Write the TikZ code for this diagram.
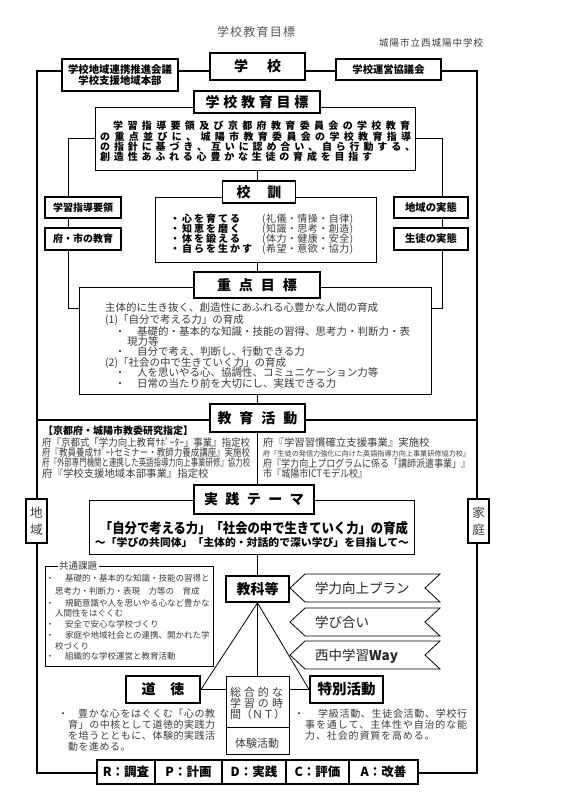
\documentclass[tikz,border=0pt]{standalone}
\usepackage{fontspec}
\setmainfont{Noto Sans CJK JP}
\usepackage{graphicx}
\definecolor{tg}{HTML}{3A3A3A}
\newcommand\fs[1]{\fontsize{#1pt}{#1pt}\selectfont}
\def\sprEnd{\sprEnd}
\def\sprA#1{\ifx\sprEnd#1\else#1\hfill\expandafter\sprA\fi}
\newcommand\spr[2]{\hbox to #1{\sprA#2\sprEnd\unskip}}
\newcounter{tn}
\newcommand\Tx[6]{\stepcounter{tn}\node[inner sep=0pt,anchor=#2,font=\fs{#5},#1] (t\arabic{tn}) at (#3,{#4+0.38*#5}) {#6};}
\tikzset{
  frm/.style={line width=1.8pt},
  tb/.style={draw, line width=1.8pt, fill=white, inner sep=0pt},
  nb/.style={draw, line width=0.8pt, fill=white, inner sep=0pt},
  thn/.style={line width=0.8pt},
  conn/.style={line width=1.3pt},
  pd/.style={tb, minimum height=24pt, font=\fs{12.5}\bfseries},
}
\begin{document}
\begin{tikzpicture}[x=1pt,y=-1pt]
\useasboundingbox (0,0) rectangle (568,809);
% outer frame
\coordinate (fTL) at (37,71); \coordinate (fBR) at (477,773);
\draw[frm] (fTL) rectangle (fBR);
\coordinate (hL) at (37,420); \coordinate (hR) at (477,420);
\draw[frm] (hL) -- (hR);

% content boxes that side lines attach to
\node[nb, minimum width=320pt, minimum height=63pt] (goalc) at (255,138.5) {};
\node[nb, minimum width=352pt, minimum height=107pt] (jutenc) at (255,340.5) {};
\coordinate (lb) at (68,308); \coordinate (rb) at (442,308);
\draw[thn] (goalc.west) -| (lb) -- (lb -| jutenc.west);
\draw[thn] (goalc.east) -| (rb) -- (rb -| jutenc.east);

% top row
\node[tb, minimum width=95pt, minimum height=27pt, font=\fs{14}\bfseries] (school) at (257.5,66.5) {\spr{47pt}{学校}};
\node[tb, line width=1.5pt, minimum width=116pt, minimum height=32pt, font=\fontsize{10.4pt}{11pt}\selectfont\bfseries, align=center] (renkei) at (120,75) {学校地域連携推進会議\\学校支援地域本部};
\node[tb, line width=1.5pt, minimum width=105pt, minimum height=21pt, font=\fs{10.3}\bfseries] (unei) at (388.5,69.5) {学校運営協議会};

\node[tb, minimum width=126pt, minimum height=22pt, font=\fs{14}\bfseries] (goalT) at (257,102) {\spr{103pt}{学校教育目標}};
\node[nb, minimum width=221pt, minimum height=65pt] (kokunc) at (265.5,229.5) {};
\node[tb, minimum width=73pt, minimum height=22pt, font=\fs{14}\bfseries] (kokunT) at (259,192) {\spr{45pt}{校訓}};

\node[tb, line width=1.3pt, minimum width=76pt, minimum height=21pt, font=\fs{10}\bfseries] (shido) at (83,207.5) {学習指導要領};
\node[tb, line width=1.3pt, minimum width=76pt, minimum height=22pt, font=\fs{10}\bfseries] (fushi) at (83,239) {府・市の教育};
\node[tb, line width=1.3pt, minimum width=74pt, minimum height=21pt, font=\fs{10.4}\bfseries] (chiikiJ) at (431,207.5) {地域の実態};
\node[tb, line width=1.3pt, minimum width=74pt, minimum height=22pt, font=\fs{10.4}\bfseries] (seitoJ) at (431,239) {生徒の実態};

\node[tb, minimum width=126pt, minimum height=26pt, font=\fs{14}\bfseries] (jutenT) at (257,285) {\spr{80pt}{重点目標}};
\node[tb, minimum width=95pt, minimum height=28pt, font=\fs{14}\bfseries] (katsudo) at (257.5,418) {\spr{80pt}{教育活動}};

\node[nb, minimum width=325pt, minimum height=54pt] (theme) at (251.5,527) {};
\node[tb, minimum width=120pt, minimum height=29pt, font=\fs{14}\bfseries] (jissenT) at (254,499.5) {\spr{100pt}{実践テーマ}};

\node[tb, minimum width=21pt, minimum height=44pt, font=\fontsize{12.5pt}{17pt}\selectfont, text=tg, align=center] (chiiki) at (36.5,521) {地\\域};
\node[tb, minimum width=21pt, minimum height=44pt, font=\fontsize{12.5pt}{17pt}\selectfont, text=tg, align=center] (katei) at (478.5,521) {家\\庭};

\node[nb, minimum width=168pt, minimum height=100pt] (kyotsu) at (129,616) {};
\node[fill=white, inner sep=1.5pt, text=tg, font=\fs{9.5}] (kyotsuL) at (78,566) {共通課題};

\node[tb, minimum width=63pt, minimum height=26pt, font=\fs{14}\bfseries] (kyoka) at (257.5,589) {教科等};

% banners
\draw[thn] (305,574) -- (440,574) -- (425,588) -- (440,602) -- (305,602) -- (290,588) -- cycle;
\draw[thn] (305,608) -- (440,608) -- (425,622) -- (440,636) -- (305,636) -- (290,622) -- cycle;
\draw[thn] (305,641) -- (440,641) -- (425,655) -- (440,669) -- (305,669) -- (290,655) -- cycle;

\node[tb, minimum width=74pt, minimum height=27pt, font=\fs{14}\bfseries] (dotoku) at (163,689.5) {\spr{43pt}{道徳}};
\node[tb, minimum width=73pt, minimum height=27pt, font=\fs{14.5}\bfseries] (tokkatsu) at (346.5,689.5) {特別活動};
\node[nb, minimum width=63pt, minimum height=51pt] (ntU) at (257.5,701.5) {};
\node[nb, minimum width=63pt, minimum height=27pt] (ntL) at (257.5,740.5) {};

% PDCA
\node[pd, minimum width=58pt] (pR) at (126,772) {R：調査};
\node[pd, minimum width=67pt] (pP) at (188.5,772) {P：計画};
\node[pd, minimum width=64pt] (pD) at (254,772) {D：実践};
\node[pd, minimum width=63pt] (pC) at (317.5,772) {C：評価};
\node[pd, minimum width=69pt] (pA) at (383.5,772) {A：改善};

% connectors
\draw[conn] (school |- goalc.south) -- (school |- kokunT.north);
\draw[conn] (school |- kokunc.south) -- (school |- jutenT.north);
\draw[frm] (school |- jutenc.south) -- (katsudo.north);
\draw[frm] (katsudo.south) -- (school |- jissenT.north);
\draw[conn] (school |- theme.south) -- (kyoka.north);
\draw[conn] (kyoka.south) -- (ntU.north);
\draw[thn] (kyoka.south) -- (dotoku.east);
\draw[thn] (kyoka.south) -- (tokkatsu.west);
\draw[thn] (dotoku.east) -- (ntU.west |- dotoku.east);
\draw[thn] (tokkatsu.west) -- (ntU.east |- tokkatsu.west);

% title texts
\Tx{text=tg!85}{base}{256}{32}{12}{\spr{78pt}{学校教育目標}}
\Tx{text=tg}{base west}{379}{43}{9.5}{\spr{104pt}{城陽市立西城陽中学校}}

% goal text
\Tx{}{base west}{113}{126}{10}{\bfseries\spr{297pt}{学習指導要領及び京都府教育委員会の学校教育}}
\Tx{}{base west}{100}{136.5}{10}{\bfseries\spr{311pt}{の重点並びに、城陽市教育委員会の学校教育指導}}
\Tx{}{base west}{100}{147}{10}{\bfseries\spr{315pt}{の指針に基づき、互いに認め合い、自ら行動する、}}
\Tx{}{base west}{100}{157}{10}{\bfseries\spr{272pt}{創造性あふれる心豊かな生徒の育成を目指す}}

% kokun
\Tx{}{base west}{170}{219}{10}{\bfseries\spr{70pt}{・心を育てる}}
\Tx{}{base west}{170}{229}{10}{\bfseries\spr{70pt}{・知恵を磨く}}
\Tx{}{base west}{170}{239}{10}{\bfseries\spr{70pt}{・体を鍛える}}
\Tx{}{base west}{170}{249}{10}{\bfseries\spr{82pt}{・自らを生かす}}
\Tx{text=tg}{base west}{262}{219}{10}{\spr{91pt}{(礼儀・情操・自律)}}
\Tx{text=tg}{base west}{262}{229}{10}{\spr{91pt}{(知識・思考・創造)}}
\Tx{text=tg}{base west}{262}{239}{10}{\spr{91pt}{(体力・健康・安全)}}
\Tx{text=tg}{base west}{262}{249}{10}{\spr{91pt}{(希望・意欲・協力)}}

% juten
\Tx{text=tg}{base west}{105}{308}{10.5}{主体的に生き抜く、創造性にあふれる心豊かな人間の育成}
\Tx{text=tg}{base west}{105}{320}{10.5}{(1)「自分で考える力」の育成}
\Tx{text=tg}{base}{120}{332}{10.5}{・}
\Tx{text=tg}{base west}{137}{332}{10.5}{基礎的・基本的な知識・技能の習得、思考力・判断力・表}
\Tx{text=tg}{base west}{127}{341.5}{10.5}{現力等}
\Tx{text=tg}{base}{120}{352}{10.5}{・}
\Tx{text=tg}{base west}{137}{352}{10.5}{自分で考え、判断し、行動できる力}
\Tx{text=tg}{base west}{105}{362.5}{10.5}{(2)「社会の中で生きていく力」の育成}
\Tx{text=tg}{base}{120}{373}{10.5}{・}
\Tx{text=tg}{base west}{137}{373}{10.5}{人を思いやる心、協調性、コミュニケーション力等}
\Tx{text=tg}{base}{120}{384}{10.5}{・}
\Tx{text=tg}{base west}{137}{384}{10.5}{日常の当たり前を大切にし、実践できる力}

% katsudo section
\Tx{}{base west}{43}{431}{10}{\bfseries 【京都府・城陽市教委研究指定】}
\Tx{text=tg}{base west}{42}{443}{10.4}{\resizebox{208pt}{\height}{府『京都式「学力向上教育ｻﾎﾟｰﾀｰ」事業』指定校}}
\Tx{text=tg}{base west}{42}{453}{10.4}{\resizebox{208pt}{\height}{府『教員養成ｻﾎﾟｰﾄセミナー・教師力養成講座』実施校}}
\Tx{text=tg}{base west}{42}{463}{10.4}{\resizebox{208pt}{\height}{府『外部専門機関と連携した英語指導力向上事業研修』協力校}}
\Tx{text=tg}{base west}{42}{474}{10.4}{府『学校支援地域本部事業』指定校}
\Tx{text=tg}{base west}{263}{443}{10.4}{府『学習習慣確立支援事業』実施校}
\Tx{text=tg}{base west}{263}{454}{7.1}{\resizebox{207pt}{\height}{府『生徒の発信力強化に向けた英語指導力向上事業研修協力校』}}
\Tx{text=tg}{base west}{263}{464}{10.4}{\resizebox{207pt}{\height}{府『学力向上プログラムに係る「講師派遣事業」』}}
\Tx{text=tg}{base west}{263}{474}{10.4}{\resizebox{104pt}{\height}{市『城陽市ICTモデル校』}}

% theme
\Tx{}{base}{254}{528}{14}{\bfseries\resizebox{308pt}{\height}{「自分で考える力」「社会の中で生きていく力」の育成}}
\Tx{}{base}{252}{543}{10.5}{\bfseries\resizebox{314pt}{\height}{～「学びの共同体」「主体的・対話的で深い学び」を目指して～}}

% kyotsu
\Tx{text=tg}{base}{50}{578}{8.5}{・}
\Tx{text=tg}{base west}{65}{578}{8.5}{基礎的・基本的な知識・技能の習得と}
\Tx{text=tg}{base west}{55}{591}{8.5}{思考力・判断力・表現　力等の　育成}
\Tx{text=tg}{base}{50}{603}{8.5}{・}
\Tx{text=tg}{base west}{65}{603}{8.5}{規範意識や人を思いやる心など豊かな}
\Tx{text=tg}{base west}{55}{613}{8.5}{人間性をはぐくむ}
\Tx{text=tg}{base}{50}{624}{8.5}{・}
\Tx{text=tg}{base west}{65}{624}{8.5}{安全で安心な学校づくり}
\Tx{text=tg}{base}{50}{635}{8.5}{・}
\Tx{text=tg}{base west}{65}{635}{8.5}{家庭や地域社会との連携、開かれた学}
\Tx{text=tg}{base west}{55}{646}{8.5}{校づくり}
\Tx{text=tg}{base}{50}{656}{8.5}{・}
\Tx{text=tg}{base west}{65}{656}{8.5}{組織的な学校運営と教育活動}

% banners text
\Tx{text=black!85}{base west}{315}{588}{13.5}{学力向上プラン}
\Tx{text=black!85}{base west}{315}{622}{13.5}{学び合い}
\Tx{text=black!85}{base west}{315}{655}{13.5}{西中学習\textbf{Way}}

% NT
\Tx{text=tg}{base}{256.5}{692}{11}{\spr{53pt}{総合的な}}
\Tx{text=tg}{base}{256.5}{703}{11}{\spr{53pt}{学習の時}}
\Tx{text=tg}{base}{256.5}{714}{11}{\spr{53pt}{間（ＮＴ）}}
\Tx{text=tg}{base}{257}{743}{11}{\spr{44pt}{体験活動}}

% dotoku comment
\Tx{text=tg}{base}{63}{714}{10}{・}
\Tx{text=tg}{base west}{78}{714}{10}{\spr{137pt}{豊かな心をはぐくむ「心の教}}
\Tx{text=tg}{base west}{68}{725}{10}{\spr{147pt}{育」の中核として道徳的実践力}}
\Tx{text=tg}{base west}{68}{736}{10}{\spr{147pt}{を培うとともに、体験的実践活}}
\Tx{text=tg}{base west}{68}{747}{10}{\spr{62.5pt}{動を進める。}}

% tokkatsu comment
\Tx{text=tg}{base}{299}{714}{10}{・}
\Tx{text=tg}{base west}{318}{714}{10}{\spr{149pt}{学級活動、生徒会活動、学校行}}
\Tx{text=tg}{base west}{305}{725}{10}{\spr{162pt}{事を通して、主体性や自治的な能}}
\Tx{text=tg}{base west}{305}{736}{10}{\spr{129.5pt}{力、社会的資質を高める。}}
\end{tikzpicture}
\end{document}
